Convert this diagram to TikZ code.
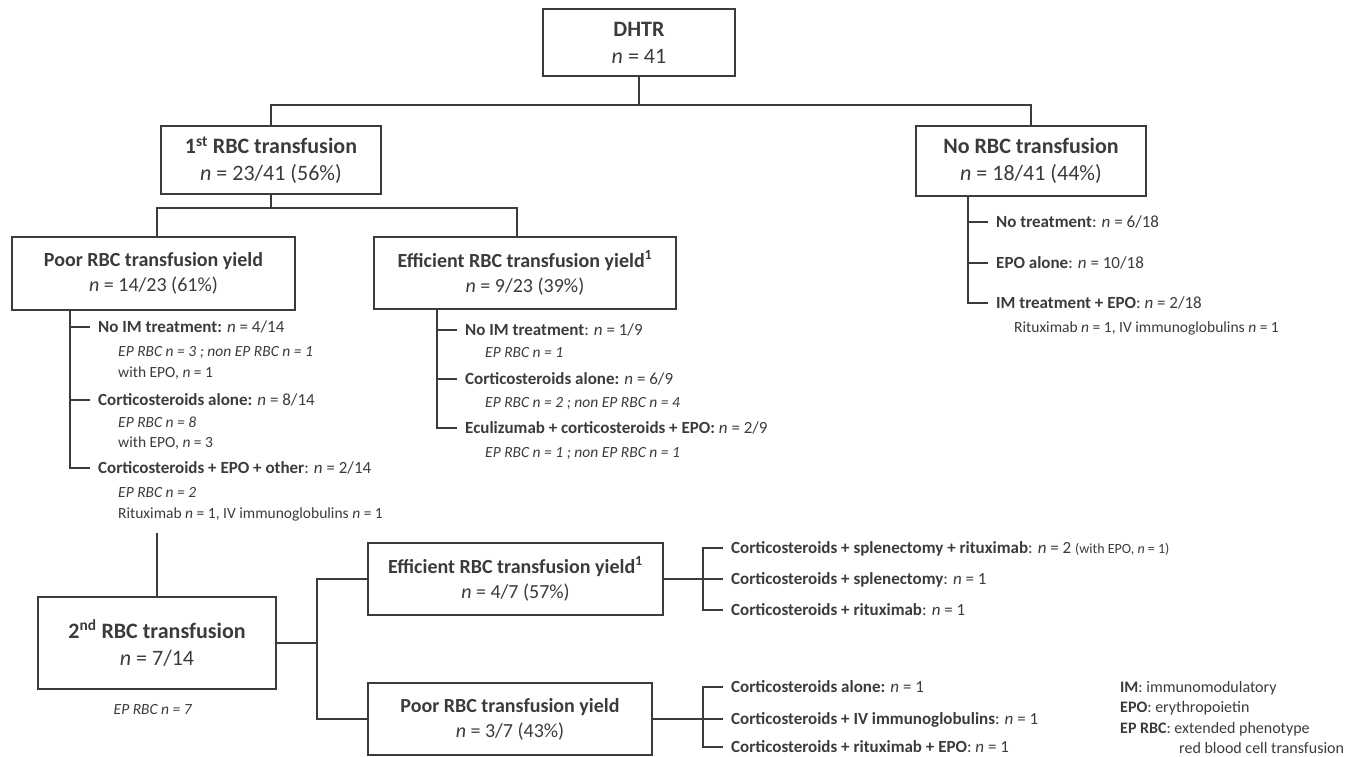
\documentclass[tikz,border=0pt]{standalone}
\usepackage{fontspec}
\setmainfont{Carlito}
\usetikzlibrary{calc}
\definecolor{ink}{HTML}{3B3B3B}
\tikzset{
  box/.style={draw=ink, line width=1.8pt, align=center, inner sep=0pt, text=ink},
  bigbox/.style={box, font=\fontsize{22}{27}\selectfont},
  midbox/.style={box, font=\fontsize{20}{25}\selectfont},
  item/.style={anchor=west, inner xsep=8pt, inner ysep=0pt, text height=11pt, text depth=0pt, text=ink, font=\fontsize{17}{20}\selectfont},
  sub/.style={anchor=west, inner sep=0pt, text height=10pt, text depth=0pt, text=ink, font=\fontsize{15.5}{18}\selectfont},
  link/.style={draw=ink, line width=1.8pt},
}
\begin{document}
\begin{tikzpicture}[x=1pt,y=-1pt]
\useasboundingbox (0,0) rectangle (1369,757);
% boxes
\node[bigbox, minimum width=192, minimum height=67] (dhtr) at (639,42.5) {\textbf{DHTR}\\\textit{n} = 41};
\node[bigbox, minimum width=220, minimum height=68] (rbc1) at (271,160) {\textbf{1\textsuperscript{st} RBC transfusion}\\\textit{n} = 23/41 (56\%)};
\node[bigbox, minimum width=230, minimum height=70] (norbc) at (1031,161) {\textbf{No RBC transfusion}\\\textit{n} = 18/41 (44\%)};
\node[midbox, minimum width=283, minimum height=73] (poor1) at (153.5,273.5) {\textbf{Poor RBC transfusion yield}\\\textit{n} = 14/23 (61\%)};
\node[midbox, minimum width=302, minimum height=72] (eff1) at (525,273) {\textbf{Efficient RBC transfusion yield\textsuperscript{1}}\\\textit{n} = 9/23 (39\%)};
\node[bigbox, minimum width=238, minimum height=92] (rbc2) at (157,643) {\textbf{2\textsuperscript{nd} RBC transfusion}\\\textit{n} = 7/14};
\node[midbox, minimum width=295, minimum height=72] (eff2) at (515.5,579) {\textbf{Efficient RBC transfusion yield\textsuperscript{1}}\\\textit{n} = 4/7 (57\%)};
\node[midbox, minimum width=284, minimum height=72] (poor2) at (510,719) {\textbf{Poor RBC transfusion yield}\\\textit{n} = 3/7 (43\%)};
% top tree
\coordinate (j1) at (639,105);
\draw[link] (dhtr.south) -- (j1);
\draw[link] (rbc1.north) |- (j1) -| (norbc.north);
\coordinate (j2) at (271,208);
\draw[link] (rbc1.south) -- (j2);
\draw[link] ($(poor1.north)+(3.5,0)$) |- (j2) -| ($(eff1.north)+(-8,0)$);
% poor yield, first transfusion
\coordinate (pv) at (70,0);
\node[item] (pi1) at (90,327) {\textbf{No IM treatment:} \textit{n} = 4/14};
\node[sub] (pi1a) at (118,351) {\textit{EP RBC n = 3 ; non EP RBC n = 1}};
\node[sub] (pi1b) at (118,372) {with EPO, \textit{n} = 1};
\node[item] (pi2) at (90,400) {\textbf{Corticosteroids alone:} \textit{n} = 8/14};
\node[sub] (pi2a) at (118,422) {\textit{EP RBC n = 8}};
\node[sub] (pi2b) at (118,442) {with EPO, \textit{n} = 3};
\node[item] (pi3) at (90,468) {\textbf{Corticosteroids + EPO + other}: \textit{n} = 2/14};
\node[sub] (pi3a) at (118,492) {\textit{EP RBC n = 2}};
\node[sub] (pi3b) at (118,513) {Rituximab \textit{n} = 1, IV immunoglobulins \textit{n} = 1};
\draw[link] (poor1.south -| pv) |- (pi3.west);
\draw[link] (pi1.west -| pv) -- (pi1.west);
\draw[link] (pi2.west -| pv) -- (pi2.west);
% efficient yield, first transfusion
\coordinate (ev) at (437,0);
\node[item] (ei1) at (457,330) {\textbf{No IM treatment}: \textit{n} = 1/9};
\node[sub] (ei1a) at (485,352) {\textit{EP RBC n = 1}};
\node[item] (ei2) at (457,379) {\textbf{Corticosteroids alone:} \textit{n} = 6/9};
\node[sub] (ei2a) at (485,402) {\textit{EP RBC n = 2 ; non EP RBC n = 4}};
\node[item] (ei3) at (457,428) {\textbf{Eculizumab + corticosteroids + EPO:} \textit{n} = 2/9};
\node[sub] (ei3a) at (485,452) {\textit{EP RBC n = 1 ; non EP RBC n = 1}};
\draw[link] (eff1.south -| ev) |- (ei3.west);
\draw[link] (ei1.west -| ev) -- (ei1.west);
\draw[link] (ei2.west -| ev) -- (ei2.west);
% no transfusion
\coordinate (nv) at (968,0);
\node[item] (ni1) at (988,222) {\textbf{No treatment}: \textit{n} = 6/18};
\node[item] (ni2) at (988,263) {\textbf{EPO alone}: \textit{n} = 10/18};
\node[item] (ni3) at (988,303) {\textbf{IM treatment + EPO}: \textit{n} = 2/18};
\node[sub] (ni3a) at (1014,327) {Rituximab \textit{n} = 1, IV immunoglobulins \textit{n} = 1};
\draw[link] (norbc.south -| nv) |- (ni3.west);
\draw[link] (ni1.west -| nv) -- (ni1.west);
\draw[link] (ni2.west -| nv) -- (ni2.west);
% second transfusion
\node[sub, anchor=center] (rbc2a) at (153,709) {\textit{EP RBC n = 7}};
\coordinate (j4) at (157,533);
\draw[link] (j4) -- (rbc2.north);
\coordinate (j3) at (317,643);
\draw[link] (rbc2.east) -- (j3);
\draw[link] (eff2.west) -| (j3) |- (poor2.west);
\coordinate (bx) at (703,0);
\node[item] (a1) at (723,548) {\textbf{Corticosteroids + splenectomy + rituximab}: \textit{n} = 2 {\fontsize{14}{16}\selectfont (with EPO, \textit{n} = 1)}};
\node[item] (a2) at (723,579) {\textbf{Corticosteroids + splenectomy}: \textit{n} = 1};
\node[item] (a3) at (723,610) {\textbf{Corticosteroids + rituximab}: \textit{n} = 1};
\draw[link] (eff2.east) -- (a2.west);
\draw[link] (a1.west) -| (a3.west -| bx) -- (a3.west);
\node[item] (b1) at (723,687) {\textbf{Corticosteroids alone:} \textit{n} = 1};
\node[item] (b2) at (723,719) {\textbf{Corticosteroids + IV immunoglobulins}: \textit{n} = 1};
\node[item] (b3) at (723,747) {\textbf{Corticosteroids + rituximab + EPO}: \textit{n} = 1};
\draw[link] (poor2.east) -- (b2.west);
\draw[link] (b1.west) -| (b3.west -| bx) -- (b3.west);
% legend
\node[sub, font=\fontsize{16}{19}\selectfont] (lg1) at (1120,687) {\textbf{IM}: immunomodulatory};
\node[sub, font=\fontsize{16}{19}\selectfont] (lg2) at (1120,707) {\textbf{EPO}: erythropoietin};
\node[sub, font=\fontsize{16}{19}\selectfont] (lg3) at (1120,728) {\textbf{EP RBC}: extended phenotype};
\node[sub, font=\fontsize{16}{19}\selectfont] (lg4) at (1179,748) {red blood cell transfusion};
\end{tikzpicture}
\end{document}
